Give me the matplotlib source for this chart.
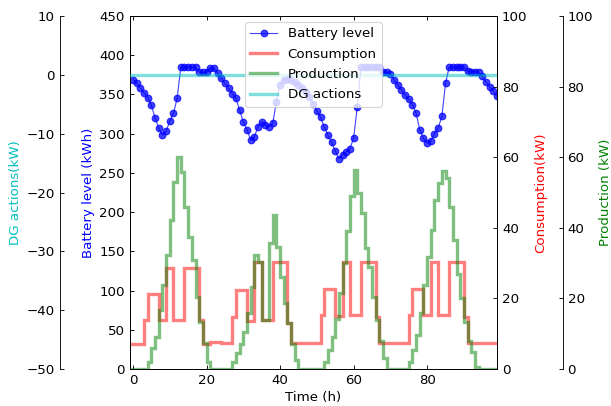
import numpy as np
import matplotlib
matplotlib.use("Agg")
import matplotlib.pyplot as plt

# ---------------------------------------------
# data (hourly, 4 days)
# ---------------------------------------------

hours = np.arange(100)
step_edges = np.arange(-1, 100)

battery_level = [
    369, 364, 358, 352, 346, 336, 320, 307, 298, 303, 316, 326,
    345, 385, 385, 385, 385, 385, 379, 378, 378, 384, 384, 377,
    371, 364, 358, 351, 345, 330, 315, 305, 292, 296, 309, 315,
    311, 309, 313, 341, 362, 368, 370, 369, 366, 362, 358, 353,
    347, 338, 329, 321, 309, 298, 289, 278, 268, 273, 277, 281,
    294, 334, 385, 385, 385, 385, 385, 385, 379, 378, 376, 369,
    362, 356, 349, 344, 337, 326, 305, 294, 288, 291, 300, 307,
    322, 364, 385, 385, 385, 385, 385, 380, 379, 379, 378, 373,
    366, 360, 354, 348,
]

consumption = [
    7.2,
    7.2, 7.2, 7.2, 13.9, 21.2, 21.2, 21.2, 13.9, 13.9, 28.6, 28.6, 13.9,
    13.9, 13.9, 28.6, 28.6, 28.6, 28.6, 13.9, 7.2, 7.2, 7.6, 7.6, 7.6,
    7.5, 7.5, 7.5, 14.8, 22.4, 22.4, 22.4, 13.5, 13.5, 30.4, 30.4, 14.0,
    14.0, 14.0, 30.4, 30.4, 30.4, 30.4, 12.9, 7.5, 7.5, 7.5, 7.5, 7.5,
    7.5, 7.5, 7.5, 15.3, 22.6, 22.6, 22.6, 15.0, 15.0, 30.4, 30.4, 15.3,
    15.3, 15.3, 30.4, 30.4, 30.4, 30.4, 14.8, 7.5, 7.5, 7.5, 7.5, 7.5,
    7.5, 7.5, 7.5, 15.3, 22.6, 22.6, 22.6, 15.3, 15.3, 30.4, 30.4, 15.3,
    15.3, 15.3, 30.4, 30.4, 30.4, 30.4, 14.8, 7.5, 7.5, 7.5, 7.5, 7.5,
    7.5, 7.5, 7.5,
]

production = [
    0,
    0, 0, 0, 0, 2.1, 5.9, 9.2, 16.8, 23.8, 32.3, 42.2, 53.0,
    60.1, 55.9, 46.0, 37.5, 30.9, 20.5, 13.4, 7.3, 2.1, 0, 0, 0,
    0, 0, 0, 2.1, 4.4, 7.2, 10.6, 15.8, 23.3, 32.3, 30.4, 14.0,
    14.0, 35.6, 43.6, 34.6, 26.2, 18.6, 12.9, 7.2, 2.5, 0, 0, 0,
    0, 0, 0, 0, 2.1, 5.4, 9.2, 14.3, 21.4, 30.0, 39.0, 49.0,
    56.4, 50.0, 44.1, 34.2, 29.0, 20.5, 13.9, 7.8, 3.1, 0, 0, 0,
    0, 0, 0, 2.1, 5.4, 9.5, 15.8, 23.8, 31.8, 39.4, 47.9, 52.6,
    56.0, 54.0, 46.0, 36.5, 27.0, 20.0, 13.4, 8.0, 4.9, 0.6, 0, 0,
    0, 0, 0,
]

dg_actions = [0.0] * 100

# ---------------------------------------------
# figure
# ---------------------------------------------

plt.rcParams["font.family"] = "DejaVu Sans"
plt.rcParams["font.size"] = 12

fig = plt.figure(figsize=(611 / 80, 406 / 80), dpi=80)
ax = fig.add_axes([0.2123, 0.0911, 0.6011, 0.8695])

ax_cons = ax.twinx()
ax_prod = ax.twinx()
ax_dg = ax.twinx()

ax_prod.spines["right"].set_position(("outward", 59))
for s in ["left", "top", "bottom"]:
    ax_prod.spines[s].set_visible(False)

ax_dg.spines["left"].set_position(("outward", 63))
ax_dg.spines["left"].set_visible(True)
ax_dg.yaxis.set_ticks_position("left")
ax_dg.yaxis.set_label_position("left")
for s in ["right", "top", "bottom"]:
    ax_dg.spines[s].set_visible(False)

p1, = ax.plot(hours, battery_level, marker="o", lw=1, color="b",
              alpha=0.75, label="Battery level")
p2 = ax_cons.stairs(consumption, step_edges, baseline=None, lw=3,
                    color="r", alpha=0.5, label="Consumption")
p3 = ax_prod.stairs(production, step_edges, baseline=None, lw=3,
                    color="g", alpha=0.5, label="Production")
p4 = ax_dg.stairs(dg_actions, step_edges, baseline=None, lw=3,
                  color="c", alpha=0.5, label="DG actions")

ax.set_xlim(-0.9, 99)
ax.set_ylim(0, 450)
ax_cons.set_ylim(0, 100)
ax_prod.set_ylim(0, 100)
ax_dg.set_ylim(-50, 10)

ax.set_xticks([0, 20, 40, 60, 80])
ax.set_yticks(range(0, 451, 50))
ax_cons.set_yticks(range(0, 101, 20))
ax_prod.set_yticks(range(0, 101, 20))
ax_dg.set_yticks(range(-50, 11, 10))

ax.tick_params(direction="in", length=3.5, pad=4.5, top=True)
for a in [ax_cons, ax_prod, ax_dg]:
    a.tick_params(direction="in", length=3.5, pad=4.5)

ax.set_xlabel("Time (h)", labelpad=4)
ax.set_ylabel("Battery level (kWh)", color="b", labelpad=4)
ax_cons.set_ylabel("Consumption(kW)", color="r", labelpad=6)
ax_prod.set_ylabel("Production (kW)", color="g", labelpad=5)
ax_dg.set_ylabel("DG actions(kW)", color="c", labelpad=4)

leg = ax_dg.legend([p1, p2, p3, p4],
                   ["Battery level", "Consumption", "Production", "DG actions"],
                   loc="upper center", borderaxespad=0.45, labelspacing=0.55)

fig.savefig("out.png", dpi=80)
